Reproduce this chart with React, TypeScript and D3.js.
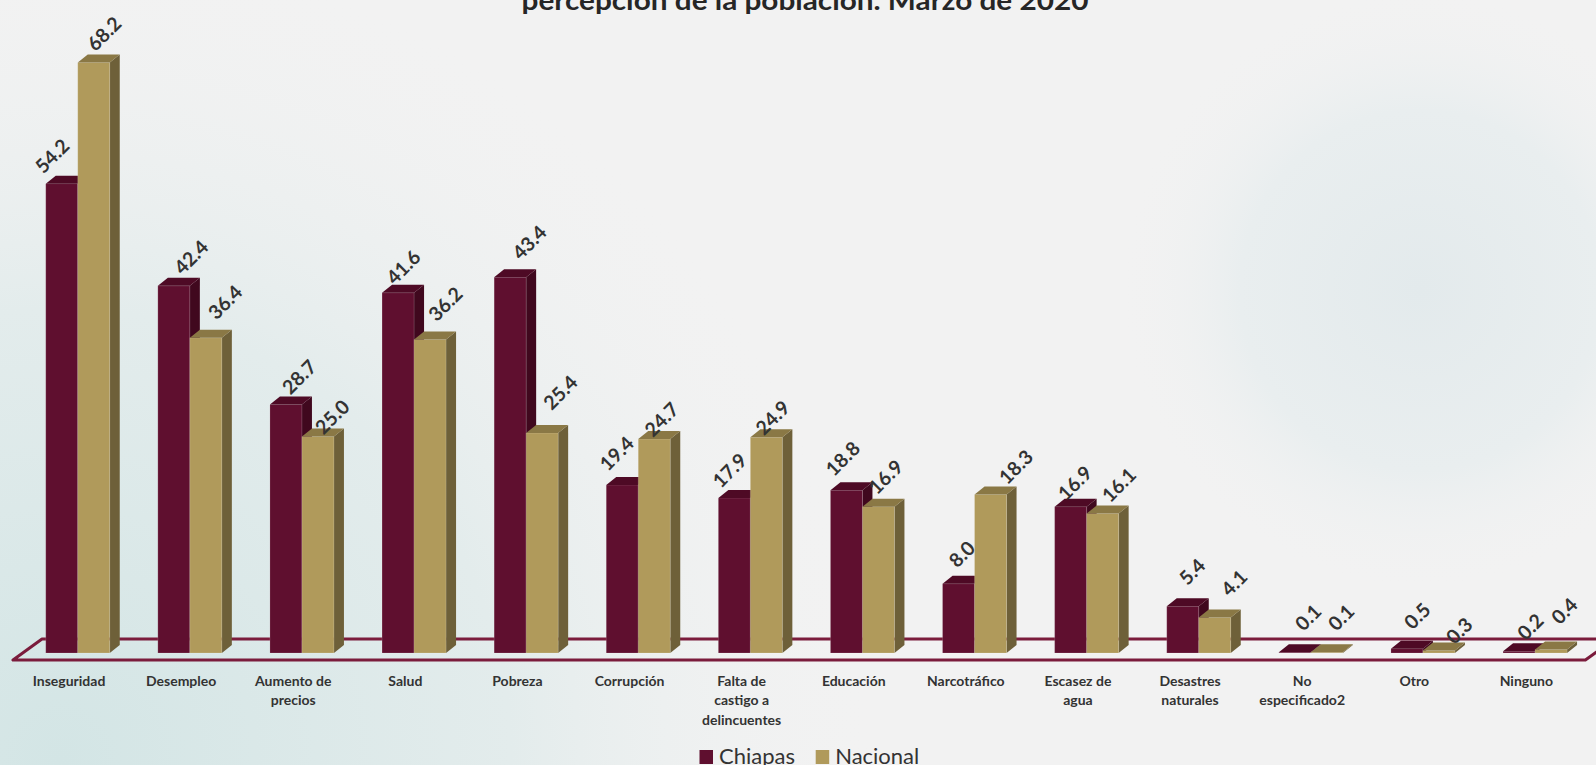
import React, { useEffect } from "react";
import * as d3 from "d3";

const categories = [
  "Inseguridad",
  "Desempleo",
  "Aumento de\nprecios",
  "Salud",
  "Pobreza",
  "Corrupción",
  "Falta de\ncastigo a\ndelincuentes",
  "Educación",
  "Narcotráfico",
  "Escasez de\nagua",
  "Desastres\nnaturales",
  "No\nespecificado2",
  "Otro",
  "Ninguno",
];
const chiapas = [54.2, 42.4, 28.7, 41.6, 43.4, 19.4, 17.9, 18.8, 8.0, 16.9, 5.4, 0.1, 0.5, 0.2];
const nacional = [68.2, 36.4, 25.0, 36.2, 25.4, 24.7, 24.9, 16.9, 18.3, 16.1, 4.1, 0.1, 0.3, 0.4];
const seriesNames = ["Chiapas", "Nacional"];
const titleText = "percepción de la población. Marzo de 2020";

// label nudges (layout only)
const nudgeC = [[-10,-28],[17,-29],[13,-28],[5,-26],[19,-35],[-6,-32],[-5,-28],[-4,-32],[3,-30],[4,-24],[9,-35],[13,-35],[10,-33],[11,-25]];
const nudgeN = [[10,-29],[19,-36],[14,-20],[15,-36],[18,-41],[7,-20],[6,-20],[7,-30],[25,-28],[16,-29],[19,-35],[14,-35],[20,-20],[13,-39]];

const W = 1596, H = 765;
const DX = 10, DY = 8;
const colors = {
  Chiapas: { front: "#5f0f2f", top: "#4e0a25", side: "#40081e" },
  Nacional: { front: "#b09a5b", top: "#8a7845", side: "#6e6039" },
};

export default function App() {
  useEffect(() => {
    document.body.style.margin = "0";
  }, []);

  const x = d3.scaleBand<string>().domain(categories).range([13, 13 + 14 * 112.1]);
  const xs = d3.scaleBand<string>().domain(seriesNames).range([-23.3, 40.7]);
  const y = d3.scaleLinear().domain([0, 70]).range([653, 653 - 70 * 8.66]);
  const bw = xs.bandwidth();

  const bar = (left: number, v: number, c: any, key: string) => {
    const y0 = y(0), y1 = y(v), r = left + bw;
    const front = `M${left},${y0}L${r},${y0}L${r},${y1}L${left},${y1}Z`;
    const top = `M${left},${y1}L${r},${y1}L${r + DX},${y1 - DY}L${left + DX},${y1 - DY}Z`;
    const side = `M${r},${y0}L${r + DX},${y0 - DY}L${r + DX},${y1 - DY}L${r},${y1}Z`;
    return (
      <g key={key}>
        <path d={side} fill={c.side} />
        <path d={front} fill={c.front} stroke="rgba(255,255,255,0.25)" strokeWidth={0.6} />
        <path d={top} fill={c.top} />
      </g>
    );
  };

  const floorFront = 660, floorBack = 639, fx0 = 13, fx1 = 13 + 14 * 112.1 + 3;
  const floorPath = `M${fx0},${floorFront}L${fx1},${floorFront}L${fx1 + 29},${floorBack}L${fx0 + 29},${floorBack}Z`;

  const fmt = d3.format(".1f");

  return (
    <svg width={W} height={H} style={{ position: "fixed", left: 0, top: 0, display: "block" }}>
      <defs>
        <radialGradient id="bgLL" cx="60" cy="760" r="820" gradientUnits="userSpaceOnUse">
          <stop offset="0" stopColor="#d3e5e5" />
          <stop offset="0.55" stopColor="#e3ecec" />
          <stop offset="1" stopColor="#f2f2f2" stopOpacity="0" />
        </radialGradient>
        <radialGradient id="bgR" cx="1420" cy="290" r="300" gradientUnits="userSpaceOnUse">
          <stop offset="0" stopColor="#e3eaec" />
          <stop offset="0.6" stopColor="#e9eeef" />
          <stop offset="1" stopColor="#f2f2f2" stopOpacity="0" />
        </radialGradient>
      </defs>
      <rect width={W} height={H} fill="#f2f2f2" />
      <rect width={W} height={H} fill="url(#bgLL)" />
      <rect width={W} height={H} fill="url(#bgR)" />

      <text x={805} y={10} textAnchor="middle" fontFamily="Lato, 'Open Sans', sans-serif" fontWeight={700}
        fontSize={26} fill="#262626" textLength={567} lengthAdjust="spacingAndGlyphs">{titleText}</text>

      <path d={floorPath} fill="none" stroke="#7b1c3c" strokeWidth={3} strokeLinejoin="round" />

      {categories.map((cat, i) => {
        const cx = (x(cat) as number) + x.bandwidth() / 2;
        return (
          <g key={cat}>
            {bar(cx + (xs("Chiapas") as number), chiapas[i], colors.Chiapas, "c")}
            {bar(cx + (xs("Nacional") as number), nacional[i], colors.Nacional, "n")}
          </g>
        );
      })}

      {categories.map((cat, i) => {
        const cx = (x(cat) as number) + x.bandwidth() / 2;
        const items = [
          { v: chiapas[i], l: cx + (xs("Chiapas") as number), n: nudgeC[i] },
          { v: nacional[i], l: cx + (xs("Nacional") as number), n: nudgeN[i] },
        ];
        return items.map((it, j) => (
          <text key={cat + j}
            transform={`translate(${it.l + bw / 2 + it.n[0]},${y(it.v) + it.n[1]}) rotate(-45)`}
            textAnchor="middle" dominantBaseline="central"
            fontFamily="Lato, 'Open Sans', sans-serif" fontWeight={700} fontSize={19.5} fill="#333333">
            {fmt(it.v)}
          </text>
        ));
      })}

      {categories.map((cat) => {
        const cx = (x(cat) as number) + x.bandwidth() / 2;
        return (
          <text key={"lab" + cat} x={cx} y={686} textAnchor="middle" fontFamily="Lato, 'Open Sans', sans-serif"
            fontWeight={700} fontSize={14} fill="#333333">
            {cat.split("\n").map((ln, k) => (
              <tspan key={k} x={cx} dy={k === 0 ? 0 : 19.4}>{ln}</tspan>
            ))}
          </text>
        );
      })}

      {seriesNames.map((s, k) => {
        const lx = k === 0 ? 699.5 : 815.7;
        return (
          <g key={s}>
            <rect x={lx} y={750} width={13.5} height={14} fill={colors[s as "Chiapas"].front} />
            <text x={lx + 19.5} y={764} fontFamily="Lato, 'Open Sans', sans-serif" fontSize={22} fill="#333333">{s}</text>
          </g>
        );
      })}
    </svg>
  );
}
